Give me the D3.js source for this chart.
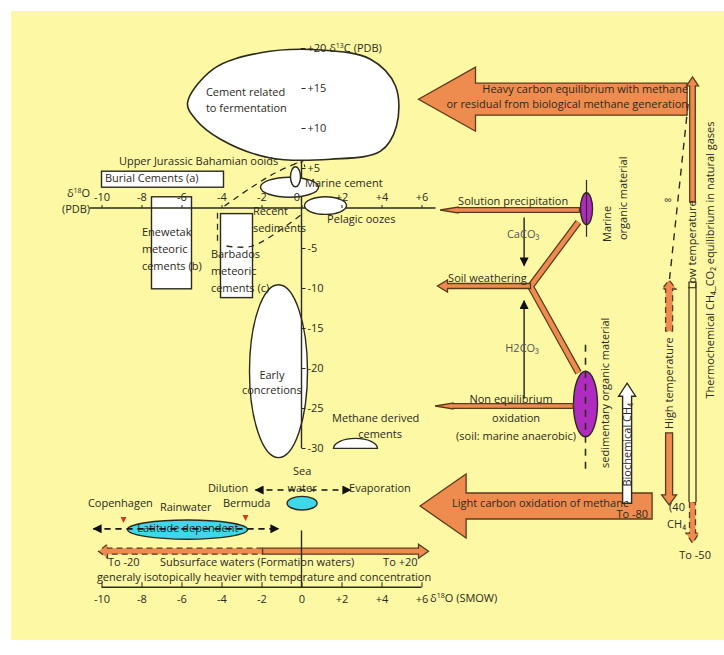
<!DOCTYPE html>
<html lang="en">
<head>
<meta charset="UTF-8">
<title>Carbon and oxygen isotopes of carbonate cements</title>
<script src="https://d3js.org/d3.v7.min.js"></script>
<style>
  body { margin: 0; background: #fff; }
  svg text { font-family: "Comic Sans MS", "Open Sans", sans-serif; font-size: 11px; fill: #2c2a1c; }
  .ax line, .ax path { stroke: #2c2a1c; }
</style>
</head>
<body>
<svg width="724" height="655"></svg>
<script>
// axis ticks (d18O across, d13C down the middle)
const oTicks = [-10, -8, -6, -4, -2, 0, 2, 4, 6];
const cTicks = [20, 15, 10, 5, -5, -10, -15, -20, -25, -30];

// egg shaped field, d18O / d13C outline
const fermentBlob = [[-5.7, 13.1], [-4.4, 17.4], [-2.05, 19.4], [0.95, 19.75], [3.45, 18.6], [4.7, 15.25],
  [4.75, 10.25], [3.95, 7.1], [1.45, 6.1], [-1.55, 6.25], [-4.05, 8.6], [-5.3, 11.1]];

// ellipse fields: centre and radii in per mil
const fields = [
  {id: "concretions", o: -1.15, c: -20.4, ro: 1.45, rc: 10.8, fill: "#fff"},
  {id: "seawater", o: 0.03, c: -36.9, ro: 0.75, rc: 0.85, fill: "#3fd8ea"},
  {id: "latitude", o: -5.7, c: -40.2, ro: 3, rc: 1.2, fill: "#3fd8ea"},
  {id: "marineOM", o: 14.25, c: -0.1, ro: 0.3, rc: 2, fill: "#b02cc0"},
  {id: "sedOM", o: 14.2, c: -24.5, ro: 0.6, rc: 4.1, fill: "#b02cc0"}
];
// small fields sitting on the d13C axis
const axisFields = [
  {id: "marine", o: -0.6, c: 2.6, ro: 1.45, rc: 1.25, fill: "#fff"},
  {id: "ooids", o: -0.3, c: 3.9, ro: 0.25, rc: 1.25, fill: "#fff"},
  {id: "pelagic", o: 1.2, c: 0.3, ro: 1.05, rc: 1.1, fill: "#fff"}
];

// rectangular fields [o0, o1, c0, c1]
const boxes = [
  {id: "burial", o: [-10.0, -3.9], c: [4.6, 2.6]},
  {id: "enewetak", o: [-7.5, -5.5], c: [1.4, -10.1]},
  {id: "barbados", o: [-4.05, -2.45], c: [-0.7, -11.2]}
];

// dashed envelope of burial trend
const burialTrend = [
  [[-3.85, 0.25], [-2.55, 2.5], [-1.3, 4.4], [-0.25, 5.6]],
  [[-4.2, -0.6], [-4.2, -4.3]],
  [[-3.75, -4.75], [-2.45, -4.75], [-0.05, -0.9]]
];

// orange process arrows: from -> to, sizes in px
const orangeArrows = [
  {from: [19.28, 13.6], to: [5.85, 13.6], hw: 16, hh: 32, hl: 57},
  {from: [17.53, -37.25], to: [5.93, -37.25], hw: 13, hh: 32, hl: 46},
  {from: [13.9, -0.25], to: [6.93, -0.25], hw: 2.3, hh: 3, hl: 18},
  {from: [11.45, -9.75], to: [6.8, -9.75], hw: 2.5, hh: 6, hl: 10},
  {from: [13.58, -24.75], to: [6.68, -24.75], hw: 2.3, hh: 3, hl: 18},
  {from: [19.55, 0.75], to: [19.55, 16.4], hw: 2.8, hh: 6, hl: 9},
  {from: [18.38, -28.1], to: [18.38, -37.1], hw: 3.5, hh: 7.5, hl: 10},
  {from: [-1.95, -42.9], to: [6.35, -42.9], hw: 3, hh: 7, hl: 10}
];
const dashedOrangeArrows = [
  {from: [18.38, -15.4], to: [18.38, -9.0], hw: 3.5, hh: 7, hl: 9},
  {from: [19.55, -36.75], to: [19.55, -41.9], hw: 3, hh: 6.5, hl: 10},
  {from: [-1.95, -42.9], to: [-10.15, -42.9], hw: 3, hh: 7, hl: 9}
];
const weatheringY = [[13.85, -1.75], [11.45, -9.8], [13.85, -20.6]];

// black single-line arrows
const lineArrows = [
  {pts: [[11.13, -1.2], [11.13, -7.2]], dash: null, heads: ["end"]},
  {pts: [[11.13, -23.8], [11.13, -11.6]], dash: null, heads: ["end"]},
  {pts: [[-2.3, -35.25], [2.45, -35.25]], dash: "6,5", heads: ["start", "end"]},
  {pts: [[-10.4, -40.1], [-1.15, -40.1]], dash: "6,5", heads: ["start", "end"]}
];

const labels = [
  {t: "Cement related", o: -4.78, c: 14.0},
  {t: "to fermentation", o: -4.78, c: 12.0},
  {t: "Upper Jurassic Bahamian ooids", o: -9.13, c: 5.38},
  {t: "Burial Cements (a)", o: -9.83, c: 3.25},
  {t: "Marine cement", o: 0.18, c: 2.6},
  {t: "Pelagic oozes", o: 1.28, c: -1.88},
  {t: "Recent", o: -2.43, c: -0.88},
  {t: "sediments", o: -2.43, c: -3.0},
  {t: "Enewetak", o: -7.98, c: -3.5},
  {t: "meteoric", o: -7.98, c: -5.63},
  {t: "cements (b)", o: -7.98, c: -7.75},
  {t: "Barbados", o: -4.53, c: -6.25},
  {t: "meteoric", o: -4.53, c: -8.38},
  {t: "cements (c)", o: -4.53, c: -10.5},
  {t: "Early", o: -1.48, c: -21.4, a: "middle"},
  {t: "concretions", o: -1.48, c: -23.25, a: "middle"},
  {t: "Methane derived", o: 1.53, c: -26.75},
  {t: "cements", o: 3.93, c: -28.75, a: "middle"},
  {t: "Solution precipitation", o: 7.83, c: 0.38},
  {t: "CaCO₃", o: 11.08, c: -3.75, a: "middle", fill: "#555"},
  {t: "Soil weathering", o: 7.33, c: -9.25},
  {t: "H2CO₃", o: 11.03, c: -18.0, a: "middle", fill: "#555"},
  {t: "Non equilibrium", o: 10.48, c: -24.38, a: "middle"},
  {t: "oxidation", o: 10.73, c: -26.75, a: "middle"},
  {t: "(soil: marine anaerobic)", o: 10.73, c: -29.0, a: "middle"},
  {t: "∞", o: 18.33, c: 0.5, a: "middle", size: 14},
  {t: "(40", o: 18.38, c: -37.9},
  {t: "CH₄", o: 18.28, c: -40.0},
  {t: "To -50", o: 19.68, c: -43.9, a: "middle"},
  {t: "Heavy carbon equilibrium with methane", o: 19.33, c: 14.38, a: "end", size: 11.6},
  {t: "or residual from biological methane generation", o: 19.33, c: 12.5, a: "end", size: 11.6},
  {t: "Light carbon oxidation of methane", o: 7.53, c: -37.4},
  {t: "To -80", o: 17.33, c: -38.75, a: "end"},
  {t: "Sea", o: 0.03, c: -33.4, a: "middle"},
  {t: "water", o: 0.03, c: -35.5, a: "middle"},
  {t: "Dilution", o: -4.68, c: -35.5},
  {t: "Evaporation", o: 2.38, c: -35.5},
  {t: "Bermuda", o: -3.93, c: -37.4},
  {t: "Copenhagen", o: -10.68, c: -37.4},
  {t: "Rainwater", o: -7.08, c: -37.9},
  {t: "Latitude dependent", o: -5.68, c: -40.5, a: "middle"},
  {t: "To -20", o: -9.68, c: -44.75},
  {t: "Subsurface waters (Formation waters)", o: -7.08, c: -44.75},
  {t: "To +20", o: 4.08, c: -44.75},
  {t: "generaly isotopically heavier with temperature and concentration", o: -10.23, c: -46.6},
  {t: "(PDB)", o: -11.98, c: -0.63}
];

// vertical labels (rotated), positioned at glyph centre
const vLabels = [
  {t: "Marine", o: 15.28, c: -4.25, a: "start"},
  {t: "organic material", o: 16.08, c: -4.0, a: "start"},
  {t: "sedimentary organic material", o: 15.18, c: -23.1, a: "middle"},
  {t: "Biochemical CH₄", o: 16.28, c: -29.6, a: "middle", size: 10},
  {t: "High temperature", o: 18.38, c: -21.9, a: "middle"},
  {t: "Low temperature", o: 19.53, c: -4.6, a: "middle"},
  {t: "Thermochemical CH₄_CO₂ equilibrium in natural gases", o: 20.43, c: -6.5, a: "middle", size: 12.6}
];

const orange = "#ee8c4f", brown = "#5e3a1c", ink = "#2c2a1c";

const svg = d3.select("svg");
const x = d3.scaleLinear().domain([-10, 6]).range([101.5, 421.5]);
const y = d3.scaleLinear().domain([-30, 20]).range([448, 48]);
const P = d => [x(d[0]), y(d[1])];
const line = d3.line();

svg.append("rect").attr("x", 11).attr("y", 11).attr("width", 713).attr("height", 629).attr("fill", "#fcf8a4");

const defs = svg.append("defs");
defs.append("marker").attr("id", "tri").attr("viewBox", "0 0 10 10")
  .attr("refX", 9).attr("refY", 5).attr("markerWidth", 11).attr("markerHeight", 9)
  .attr("markerUnits", "userSpaceOnUse").attr("orient", "auto-start-reverse")
  .append("path").attr("d", "M0,0L10,5L0,10Z").attr("fill", "#111");

function arrowPoly(a, b, hw, hh, hl) {
  const [x1, y1] = P(a), [x2, y2] = P(b);
  const dx = x2 - x1, dy = y2 - y1, L = Math.hypot(dx, dy);
  const ux = dx / L, uy = dy / L, nx = -uy, ny = ux;
  const bx = x2 - ux * hl, by = y2 - uy * hl;
  return line([[x1 + nx * hw, y1 + ny * hw], [bx + nx * hw, by + ny * hw], [bx + nx * hh, by + ny * hh], [x2, y2],
    [bx - nx * hh, by - ny * hh], [bx - nx * hw, by - ny * hw], [x1 - nx * hw, y1 - ny * hw]]) + "Z";
}

function drawEllipses(cls, data) {
  svg.selectAll("ellipse." + cls).data(data).join("ellipse").attr("class", cls)
    .attr("cx", d => x(d.o)).attr("cy", d => y(d.c))
    .attr("rx", d => x(d.o + d.ro) - x(d.o)).attr("ry", d => y(d.c - d.rc) - y(d.c))
    .attr("fill", d => d.fill).attr("stroke", ink).attr("stroke-width", 1.4);
}

// boxes
svg.selectAll("rect.box").data(boxes).join("rect").attr("class", "box")
  .attr("x", d => x(d.o[0])).attr("y", d => y(d.c[0]))
  .attr("width", d => x(d.o[1]) - x(d.o[0])).attr("height", d => y(d.c[1]) - y(d.c[0]))
  .attr("fill", "#fff").attr("stroke", ink).attr("stroke-width", 1.4);

drawEllipses("f", fields);

// methane dome (upper half)
{
  const cx = x(2.7), cy = y(-30.05), rx = x(3.8) - x(2.7), ry = y(-31.3) - y(-30.05);
  svg.append("path").attr("d", `M${cx - rx},${cy}A${rx},${ry} 0 0 1 ${cx + rx},${cy}Z`)
    .attr("fill", "#fff").attr("stroke", ink).attr("stroke-width", 1.4);
  svg.append("rect").attr("x", cx - rx - 2).attr("y", cy + 1).attr("width", 2 * rx + 4).attr("height", 6).attr("fill", "#fcf8a4");
}

// burial trend dashed envelope
svg.selectAll("path.trend").data(burialTrend).join("path").attr("class", "trend")
  .attr("d", d => d3.line().curve(d3.curveCatmullRom)(d.map(P)))
  .attr("fill", "none").attr("stroke", ink).attr("stroke-width", 1.3).attr("stroke-dasharray", "6,5");

// axis lines
svg.append("line").attr("x1", x(-10.6)).attr("x2", x(6.7)).attr("y1", y(0)).attr("y2", y(0))
  .attr("stroke", ink).attr("stroke-width", 1.4);
svg.append("line").attr("x1", x(0)).attr("x2", x(0)).attr("y1", y(20)).attr("y2", y(-30))
  .attr("stroke", ink).attr("stroke-width", 1.4);

// fermentation blob hides the upper d13C axis
svg.append("path")
  .attr("d", d3.line().curve(d3.curveCatmullRomClosed)(fermentBlob.map(P)))
  .attr("fill", "#fff").attr("stroke", ink).attr("stroke-width", 1.6);

drawEllipses("af", axisFields);

// top d18O (PDB) axis ticks
const topAx = svg.append("g").attr("class", "ax").attr("transform", `translate(0,${y(0)})`)
  .call(d3.axisTop(x).tickValues(oTicks).tickSize(3).tickPadding(4)
    .tickFormat(d => d > 0 ? "+" + d : d));
topAx.select(".domain").remove();
topAx.selectAll("text").attr("font-size", 11).attr("fill", ink)
  .attr("dx", d => d === 0 ? -5 : 0);

// vertical d13C axis ticks
const vAx = svg.append("g").attr("class", "ax").attr("transform", `translate(${x(0)},0)`)
  .call(d3.axisRight(y).tickValues(cTicks).tickSize(4).tickPadding(2)
    .tickFormat(d => d > 0 ? "+" + d : d));
vAx.select(".domain").remove();
vAx.selectAll("text").attr("font-size", 11).attr("fill", ink);
vAx.selectAll(".tick").filter(d => d === 20).select("text")
  .append("tspan").text(" δ").append("tspan").text("13").attr("font-size", 7).attr("dy", -4)
  .select(function () { return this.parentNode; })
  .append("tspan").text("C (PDB)").attr("dy", 4);

// d18O (PDB) caption
const capT = svg.append("text").attr("x", x(-11.73)).attr("y", y(1.38)).text("δ");
capT.append("tspan").text("18").attr("font-size", 7).attr("dy", -4);
capT.append("tspan").text("O").attr("dy", 4);

// ooids pointer
svg.append("path").attr("d", line([P([-0.35, 5.55]), P([0.1, 5.8]), P([0.2, 4.8])]))
  .attr("fill", "none").attr("stroke", ink).attr("stroke-width", 1).attr("stroke-dasharray", "3,3");

// organic matter axes
svg.append("line").attr("x1", x(14.25)).attr("x2", x(14.25)).attr("y1", y(3.5)).attr("y2", y(-3.6))
  .attr("stroke", ink).attr("stroke-width", 1.2);
svg.append("line").attr("x1", x(14.2)).attr("x2", x(14.2)).attr("y1", y(-17.1)).attr("y2", y(-32.8))
  .attr("stroke", ink).attr("stroke-width", 1.6).attr("stroke-dasharray", "7,6");

// long dashed isotope equilibrium trace
svg.append("line").attr("x1", x(19.33)).attr("y1", y(13.0)).attr("x2", x(18.38)).attr("y2", y(-9.4))
  .attr("stroke", ink).attr("stroke-width", 1.4).attr("stroke-dasharray", "7,6");

// weathering Y
svg.append("path").attr("d", line(weatheringY.map(P))).attr("fill", "none")
  .attr("stroke", brown).attr("stroke-width", 7).attr("stroke-linejoin", "miter");
svg.append("path").attr("d", line(weatheringY.map(P))).attr("fill", "none")
  .attr("stroke", orange).attr("stroke-width", 4.5).attr("stroke-linejoin", "miter");

// orange arrows
svg.selectAll("path.oa").data(orangeArrows).join("path").attr("class", "oa")
  .attr("d", d => arrowPoly(d.from, d.to, d.hw, d.hh, d.hl))
  .attr("fill", orange).attr("stroke", brown).attr("stroke-width", 1.3);
svg.selectAll("path.oad").data(dashedOrangeArrows).join("path").attr("class", "oad")
  .attr("d", d => arrowPoly(d.from, d.to, d.hw, d.hh, d.hl))
  .attr("fill", orange).attr("stroke", brown).attr("stroke-width", 1.3).attr("stroke-dasharray", "6,4");

// low temperature hollow bar
{
  const xc = x(19.55), y0 = y(-9.25), y1 = y(-36.75);
  svg.append("path").attr("d", `M${xc - 3.5},${y1}V${y0}H${xc + 3.5}V${y1}`)
    .attr("fill", "#fcf8a4").attr("stroke", ink).attr("stroke-width", 1.2);
}

// biochemical CH4 hollow arrow
svg.append("path").attr("d", arrowPoly([16.28, -36.9], [16.28, -21.9], 4.5, 8.5, 13))
  .attr("fill", "#fff").attr("stroke", ink).attr("stroke-width", 1.4);

// black line arrows
lineArrows.forEach(a => {
  const p = svg.append("path").attr("d", line(a.pts.map(P))).attr("fill", "none")
    .attr("stroke", "#111").attr("stroke-width", 1.3);
  if (a.dash) p.attr("stroke-dasharray", a.dash);
  if (a.heads.includes("end")) p.attr("marker-end", "url(#tri)");
  if (a.heads.includes("start")) p.attr("marker-start", "url(#tri)");
});

// red latitude markers
[[-8.9, -39.0], [-2.8, -38.75]].forEach(d => {
  const [px, py] = P(d);
  svg.append("path").attr("d", `M${px - 3},${py - 3}L${px + 3},${py - 3}L${px},${py + 3}Z`).attr("fill", "#d63a1a");
});

// bottom d18O (SMOW) axis
const yB = y(-47.4);
svg.append("line").attr("x1", x(0)).attr("x2", x(0)).attr("y1", y(-40.3)).attr("y2", yB)
  .attr("stroke", ink).attr("stroke-width", 1.4);
svg.append("line").attr("x1", x(-10)).attr("x2", x(6)).attr("y1", yB).attr("y2", yB)
  .attr("stroke", ink).attr("stroke-width", 1.4);
const botAx = svg.append("g").attr("class", "ax").attr("transform", `translate(0,${yB})`)
  .call(d3.axisBottom(x).tickValues(oTicks).tickSizeInner(-5).tickSizeOuter(0).tickPadding(8)
    .tickFormat(d => d > 0 ? "+" + d : d));
botAx.select(".domain").remove();
botAx.selectAll("text").attr("font-size", 11).attr("fill", ink);
const smow = svg.append("text").attr("x", x(6.43)).attr("y", y(-49.25)).text("δ");
smow.append("tspan").text("18").attr("font-size", 7).attr("dy", -4);
smow.append("tspan").text("O (SMOW)").attr("dy", 4);

// labels
svg.selectAll("text.lab").data(labels).join("text").attr("class", "lab")
  .attr("x", d => x(d.o)).attr("y", d => y(d.c))
  .attr("text-anchor", d => d.a || "start")
  .attr("font-size", d => d.size || 11)
  .style("fill", d => d.fill || ink)
  .text(d => d.t);

svg.selectAll("text.vlab").data(vLabels).join("text").attr("class", "vlab")
  .attr("transform", d => `translate(${x(d.o)},${y(d.c)}) rotate(-90)`)
  .attr("dy", "0.35em").attr("text-anchor", d => d.a)
  .attr("font-size", d => d.size || 11)
  .text(d => d.t);

// dashed line drawn over its label
svg.append("line").attr("x1", x(-10.4)).attr("x2", x(-1.3)).attr("y1", y(-40.1)).attr("y2", y(-40.1))
  .attr("stroke", "#111").attr("stroke-width", 1.2).attr("stroke-dasharray", "6,5");
</script>
</body>
</html>
